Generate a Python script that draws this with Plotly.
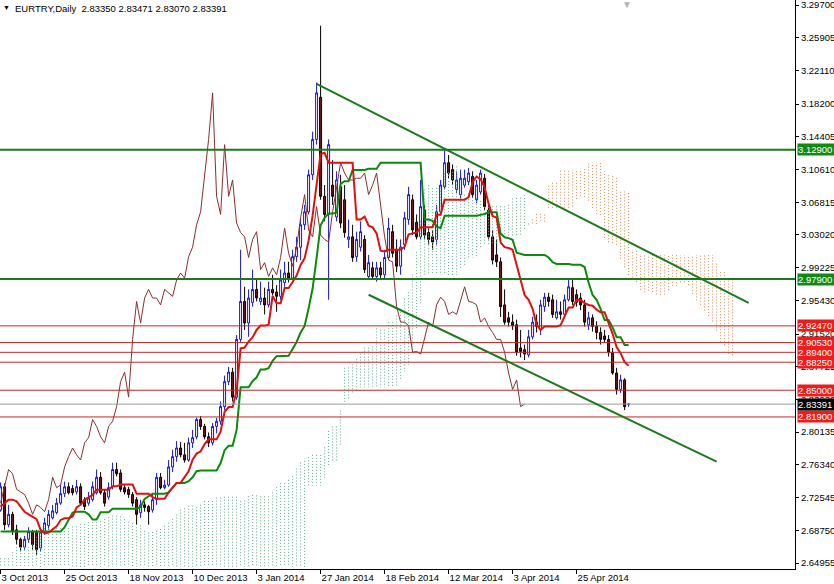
import plotly.graph_objects as go

# ---------------- data ----------------
tick_bars = [0, 16, 32, 48, 64, 80, 96, 112, 128, 144]
tick_labels = ["3 Oct 2013", "25 Oct 2013", "18 Nov 2013", "10 Dec 2013", "3 Jan 2014",
               "27 Jan 2014", "18 Feb 2014", "12 Mar 2014", "3 Apr 2014", "25 Apr 2014"]

opens = [2.711, 2.738, 2.694, 2.706, 2.688, 2.677, 2.668, 2.677, 2.686, 2.685,
         2.667, 2.686, 2.693, 2.702, 2.708, 2.719, 2.730, 2.738, 2.736, 2.732,
         2.738, 2.723, 2.719, 2.723, 2.731, 2.749, 2.731, 2.726, 2.738, 2.758,
         2.754, 2.737, 2.735, 2.729, 2.723, 2.708, 2.717, 2.715, 2.711, 2.723,
         2.749, 2.737, 2.740, 2.761, 2.773, 2.783, 2.775, 2.769, 2.789, 2.796,
         2.816, 2.808, 2.796, 2.789, 2.808, 2.814, 2.831, 2.860, 2.871, 2.842,
         2.909, 2.953, 2.928, 2.952, 2.967, 2.953, 2.957, 2.949, 2.967, 2.964,
         2.959, 2.975, 2.986, 2.980, 3.005, 3.016, 3.042, 3.057, 3.100, 3.141,
         3.190, 3.075, 3.054, 3.088, 3.051, 3.086, 3.071, 3.025, 3.028, 3.005,
         3.016, 3.025, 2.982, 2.992, 2.982, 2.992, 2.984, 3.004, 3.034, 3.013,
         2.994, 3.019, 3.048, 3.071, 3.045, 3.028, 3.059, 3.033, 3.028, 3.025,
         3.057, 3.086, 3.114, 3.106, 3.083, 3.077, 3.088, 3.092, 3.098, 3.071,
         3.080, 3.096, 3.059, 3.028, 3.007, 2.999, 2.949, 2.934, 2.929, 2.926,
         2.899, 2.897, 2.891, 2.912, 2.929, 2.920, 2.947, 2.958, 2.955, 2.934,
         2.941, 2.938, 2.955, 2.969, 2.961, 2.957, 2.949, 2.926, 2.934, 2.924,
         2.917, 2.913, 2.909, 2.894, 2.870, 2.851, 2.862, 2.83350]
highs = [2.743, 2.742, 2.717, 2.709, 2.694, 2.679, 2.681, 2.691, 2.688, 2.688,
         2.688, 2.702, 2.711, 2.717, 2.725, 2.740, 2.744, 2.743, 2.740, 2.746,
         2.742, 2.726, 2.732, 2.744, 2.758, 2.755, 2.735, 2.743, 2.766, 2.766,
         2.758, 2.740, 2.738, 2.732, 2.726, 2.723, 2.721, 2.717, 2.729, 2.754,
         2.754, 2.746, 2.769, 2.781, 2.791, 2.790, 2.789, 2.795, 2.804, 2.818,
         2.820, 2.811, 2.801, 2.812, 2.818, 2.837, 2.867, 2.877, 2.876, 2.914,
         3.013, 2.970, 2.967, 2.990, 2.978, 2.976, 2.969, 2.976, 2.984, 2.972,
         2.990, 2.999, 2.999, 3.013, 3.028, 3.050, 3.065, 3.106, 3.150, 3.207,
         3.273, 3.088, 3.141, 3.117, 3.104, 3.100, 3.088, 3.048, 3.042, 3.034,
         3.046, 3.030, 3.007, 2.999, 2.999, 2.999, 3.013, 3.050, 3.042, 3.025,
         3.025, 3.057, 3.086, 3.077, 3.054, 3.094, 3.065, 3.038, 3.036, 3.065,
         3.094, 3.129, 3.123, 3.112, 3.104, 3.106, 3.106, 3.108, 3.104, 3.094,
         3.106, 3.101, 3.065, 3.036, 3.025, 3.004, 2.967, 2.941, 2.938, 2.932,
         2.920, 2.903, 2.920, 2.935, 2.938, 2.955, 2.963, 2.963, 2.961, 2.955,
         2.953, 2.961, 2.978, 2.978, 2.967, 2.963, 2.955, 2.941, 2.938, 2.930,
         2.923, 2.920, 2.914, 2.899, 2.876, 2.868, 2.864, 2.83471]
lows = [2.709, 2.688, 2.691, 2.682, 2.671, 2.663, 2.665, 2.673, 2.665, 2.659,
        2.663, 2.682, 2.688, 2.700, 2.706, 2.717, 2.726, 2.729, 2.728, 2.729,
        2.717, 2.711, 2.716, 2.721, 2.729, 2.729, 2.715, 2.723, 2.735, 2.750,
        2.732, 2.729, 2.725, 2.715, 2.694, 2.702, 2.709, 2.694, 2.708, 2.717,
        2.735, 2.735, 2.738, 2.755, 2.767, 2.772, 2.766, 2.767, 2.783, 2.793,
        2.804, 2.793, 2.784, 2.786, 2.800, 2.810, 2.827, 2.856, 2.837, 2.839,
        2.906, 2.920, 2.912, 2.947, 2.953, 2.949, 2.938, 2.946, 2.960, 2.941,
        2.955, 2.970, 2.975, 2.978, 2.999, 3.001, 3.036, 3.054, 3.094, 3.135,
        3.071, 3.046, 2.955, 3.065, 3.046, 3.038, 3.027, 3.015, 2.999, 2.999,
        3.011, 2.986, 2.978, 2.978, 2.976, 2.978, 2.980, 3.001, 3.004, 2.987,
        2.984, 3.013, 3.042, 3.030, 3.025, 3.025, 3.025, 3.019, 3.013, 3.019,
        3.054, 3.083, 3.096, 3.088, 3.079, 3.073, 3.085, 3.088, 3.073, 3.067,
        3.077, 3.059, 3.025, 2.996, 2.993, 2.935, 2.926, 2.924, 2.920, 2.890,
        2.888, 2.885, 2.888, 2.909, 2.917, 2.914, 2.941, 2.947, 2.934, 2.932,
        2.932, 2.934, 2.953, 2.949, 2.947, 2.943, 2.924, 2.920, 2.918, 2.909,
        2.903, 2.905, 2.889, 2.868, 2.845, 2.847, 2.827, 2.83070]
closes = [2.738, 2.694, 2.706, 2.686, 2.677, 2.668, 2.677, 2.686, 2.671, 2.665,
          2.685, 2.696, 2.706, 2.710, 2.719, 2.730, 2.738, 2.731, 2.731, 2.738,
          2.719, 2.715, 2.725, 2.738, 2.749, 2.731, 2.719, 2.737, 2.758, 2.753,
          2.735, 2.732, 2.729, 2.719, 2.706, 2.717, 2.714, 2.709, 2.723, 2.749,
          2.737, 2.740, 2.761, 2.773, 2.783, 2.775, 2.769, 2.789, 2.795, 2.816,
          2.808, 2.796, 2.789, 2.808, 2.814, 2.831, 2.860, 2.871, 2.842, 2.909,
          2.953, 2.928, 2.957, 2.967, 2.957, 2.957, 2.949, 2.967, 2.963, 2.959,
          2.978, 2.986, 2.980, 3.005, 3.016, 3.042, 3.057, 3.100, 3.141, 3.195,
          3.075, 3.054, 3.135, 3.075, 3.094, 3.044, 3.033, 3.028, 3.004, 3.025,
          3.034, 2.990, 2.998, 2.982, 2.992, 2.984, 3.004, 3.038, 3.009, 2.994,
          3.016, 3.050, 3.077, 3.036, 3.028, 3.063, 3.030, 3.025, 3.022, 3.057,
          3.088, 3.114, 3.102, 3.094, 3.094, 3.096, 3.096, 3.102, 3.077, 3.088,
          3.102, 3.063, 3.028, 3.001, 2.999, 2.947, 2.929, 2.929, 2.925, 2.894,
          2.895, 2.892, 2.912, 2.929, 2.924, 2.949, 2.958, 2.953, 2.938, 2.941,
          2.938, 2.955, 2.970, 2.953, 2.952, 2.949, 2.929, 2.934, 2.924, 2.917,
          2.909, 2.909, 2.894, 2.870, 2.851, 2.862, 2.831, 2.83391]

# Ichimoku values before enough history is on the chart
tenkan_lead = [2.715, 2.719, 2.723, 2.723, 2.721, 2.715, 2.709, 2.706]
kijun_lead = [2.686] * 16 + [2.691, 2.700, 2.708, 2.709, 2.709, 2.709, 2.706, 2.700, 2.700]
span_a_lead = [2.655, 2.655, 2.655, 2.662, 2.668, 2.668, 2.668, 2.668, 2.672, 2.680,
               2.688, 2.690, 2.690, 2.690, 2.690, 2.690, 2.690, 2.690, 2.692, 2.692,
               2.695, 2.695, 2.697, 2.697, 2.697, 2.698]
span_b_lead = [2.645] * 77

green_levels = [3.12900, 2.97900]
red_levels = [2.92470, 2.90530, 2.89400, 2.88250, 2.85000, 2.81900]
last_price = 2.83391
trend_upper = [(79, 3.2056), (187, 2.9515)]
trend_lower = [(92, 2.9608), (179, 2.7671)]
axis_ticks = [3.29700, 3.25905, 3.22110, 3.18200, 3.14405, 3.10610, 3.06815, 3.03020,
              2.99225, 2.95430, 2.91520, 2.87725, 2.83930, 2.80135, 2.76340, 2.72545,
              2.68750, 2.64955]
header = "EURTRY,Daily\u00a0\u00a02.83350 2.83471 2.83070 2.83391"
SHIFT = 26

# ---------------- indicators ----------------
n = len(closes)
bars = list(range(n))


def midrange(i, period):
    lo = max(0, i - period + 1)
    return (max(highs[lo:i + 1]) + min(lows[lo:i + 1])) / 2


tenkan = [tenkan_lead[i] if i < len(tenkan_lead) else midrange(i, 9) for i in bars]
kijun = [kijun_lead[i] if i < len(kijun_lead) else midrange(i, 26) for i in bars]
span_a = span_a_lead + [(tenkan[i] + kijun[i]) / 2 for i in bars]
span_b = span_b_lead + [midrange(i, 52) for i in range(51, n)]

gx, gy, rx, ry = [], [], [], []
for j in range(len(span_a)):
    a, b = span_a[j], span_b[j]
    if a >= b:
        gx += [j, j, None]; gy += [a, b, None]
    else:
        rx += [j, j, None]; ry += [a, b, None]

FONT = "Liberation Sans"
FS = 9.5

fig = go.Figure()
fig.add_trace(go.Scatter(x=gx, y=gy, mode="lines", line=dict(color="#5fa889", width=1, dash="1px,2px"),
                         hoverinfo="skip"))
fig.add_trace(go.Scatter(x=rx, y=ry, mode="lines", line=dict(color="#e0824a", width=1, dash="1px,2px"),
                         hoverinfo="skip"))
fig.add_trace(go.Candlestick(x=bars, open=opens, high=highs, low=lows, close=closes,
                             increasing=dict(line=dict(color="#1515c8", width=1), fillcolor="#ffffff"),
                             decreasing=dict(line=dict(color="#000000", width=1), fillcolor="#6e1c1c"),
                             whiskerwidth=0))
fig.add_trace(go.Scatter(x=[i - SHIFT for i in bars[SHIFT:]], y=closes[SHIFT:], mode="lines",
                         line=dict(color="#8b2f2f", width=1)))
fig.add_trace(go.Scatter(x=bars, y=kijun, mode="lines", line=dict(color="#0b8a0b", width=2)))
fig.add_trace(go.Scatter(x=bars, y=tenkan, mode="lines", line=dict(color="#e01010", width=2)))

shapes = []
for lv in green_levels:
    shapes.append(dict(type="line", xref="paper", x0=0, x1=1, yref="y", y0=lv, y1=lv,
                       line=dict(color="#1c7a1c", width=2)))
for lv in red_levels:
    shapes.append(dict(type="line", xref="paper", x0=0, x1=1, yref="y", y0=lv, y1=lv,
                       line=dict(color="#c0282a", width=1)))
shapes.append(dict(type="line", xref="paper", x0=0, x1=1, yref="y", y0=last_price, y1=last_price,
                   line=dict(color="#9a9a9a", width=1)))
for (b0, p0), (b1, p1) in (trend_upper, trend_lower):
    shapes.append(dict(type="line", xref="x", yref="y", x0=b0, y0=p0, x1=b1, y1=p1,
                       line=dict(color="#1c7a1c", width=2)))

annotations = []


def price_box(price, bg):
    annotations.append(dict(xref="paper", x=1, xanchor="left", xshift=2, yref="y", y=price,
                            text=f"{price:.5f}", showarrow=False, bgcolor=bg, width=36, height=11,
                            align="left", valign="middle", borderpad=0,
                            font=dict(family=FONT, size=FS, color="#ffffff")))


for lv in green_levels:
    price_box(lv, "#128a12")
for lv in red_levels:
    price_box(lv, "#ee1c1c")
price_box(last_price, "#000000")

annotations.append(dict(xref="paper", yref="paper", x=0, y=1, xanchor="left", yanchor="top",
                        xshift=13, yshift=-1, text=header, showarrow=False,
                        font=dict(family=FONT, size=FS, color="#000000")))
annotations.append(dict(xref="paper", yref="paper", x=0, y=1, xanchor="left", yanchor="top",
                        xshift=1, yshift=-2, text="\u25bc", showarrow=False,
                        font=dict(family=FONT, size=7, color="#000000")))
annotations.append(dict(xref="paper", yref="paper", x=627 / 795, y=1, xanchor="center", yanchor="top",
                        yshift=3, text="\u25bc", showarrow=False,
                        font=dict(family=FONT, size=10, color="#b4b4b4")))

fig.update_layout(
    template="none", width=834, height=584, showlegend=False,
    margin=dict(l=0, r=39, t=0, b=15),
    paper_bgcolor="#ffffff", plot_bgcolor="#ffffff",
    shapes=shapes, annotations=annotations,
    font=dict(family=FONT, size=FS, color="#000000"),
    xaxis=dict(range=[-0.15, 198.6], tickvals=tick_bars, ticktext=tick_labels,
               ticklabelposition="outside right", ticks="outside", ticklen=4, tickcolor="#000000",
               showline=True, linecolor="#000000", linewidth=1, showgrid=False, zeroline=False,
               rangeslider=dict(visible=False), automargin=False, ticklabeloverflow="allow",
               tickfont=dict(family=FONT, size=FS, color="#000000")),
    yaxis=dict(range=[2.64259, 3.30280], side="right", tickvals=axis_ticks,
               ticktext=[f"{t:.5f}" for t in axis_ticks], ticks="outside", ticklen=3,
               tickcolor="#000000", showline=True, linecolor="#000000", linewidth=1,
               showgrid=False, zeroline=False, automargin=False, ticklabeloverflow="allow",
               tickfont=dict(family=FONT, size=FS, color="#000000")),
)

fig.write_html("out.html", config={"displayModeBar": False},
               post_script="document.body.style.margin='0px';document.body.style.overflow='hidden';")
